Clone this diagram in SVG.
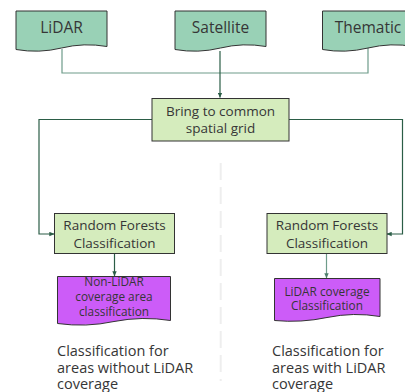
<svg xmlns="http://www.w3.org/2000/svg" width="405" height="392" viewBox="0 0 405 392">
<defs>
<style>
text{font-family:"Open Sans","Noto Sans","DejaVu Sans",sans-serif;font-weight:400;fill:#363636;text-anchor:middle}
.doc{fill:#99d1b6;stroke:#333;stroke-width:1}
.box{fill:#d5ecbd;stroke:#333;stroke-width:1}
.out{fill:#cc5cf8;stroke:#333;stroke-width:1}
.c{fill:none;stroke-width:1.2}
.d{stroke:#2b5d46}
.l{stroke:#6e9c8a}
.lab{text-anchor:start;font-size:14.5px}
</style>
<marker id="ad" viewBox="0 0 8 8" refX="7.5" refY="4" markerWidth="5" markerHeight="5" orient="auto" markerUnits="userSpaceOnUse"><path d="M0,0.5 L8,4 L0,7.5 Z" fill="#2b5d46"/></marker>
<marker id="al" viewBox="0 0 8 8" refX="7.5" refY="4" markerWidth="5" markerHeight="5" orient="auto" markerUnits="userSpaceOnUse"><path d="M0,0.5 L8,4 L0,7.5 Z" fill="#4f7f6c"/></marker>
</defs>
<line x1="220.7" y1="163" x2="220.7" y2="381" stroke="#eeeeee" stroke-width="2" stroke-dasharray="17,7"/>
<g id="connectors">
<path class="c l" d="M62,49 V73 H368 V47"/>
<path class="c d" d="M220,51 V97.5" marker-end="url(#ad)"/>
<path class="c d" d="M152,119.5 H39 V234 H54" marker-end="url(#ad)"/>
<path class="c d" d="M289,119.5 H402.5 V234 H387" marker-end="url(#ad)"/>
<path class="c d" d="M114.5,253 V276" marker-end="url(#ad)"/>
<path class="c l" d="M326.5,253 V278" marker-end="url(#al)"/>
</g>
<g id="lidar">
<path class="doc" d="M16,11 H107 V46.5 Q84,42.5 61.5,48 Q39,53.5 16,49.5 Z"/>
<text x="61.5" y="33" font-size="15.5">LiDAR</text>
</g>
<g id="satellite">
<path class="doc" d="M175,11 H266 V46.5 Q243,42.5 220.5,48 Q198,53.5 175,49.5 Z"/>
<text x="220.5" y="33" font-size="15.5">Satellite</text>
</g>
<g id="thematic">
<path class="doc" d="M322.5,11 H413.5 V46.5 Q391,42.5 368,48 Q345,53.5 322.5,49.5 Z"/>
<text x="368" y="33" font-size="15.5">Thematic</text>
</g>
<g id="grid">
<rect class="box" x="152" y="98.5" width="137" height="42.5"/>
<text x="220.5" y="116" font-size="13.5">Bring to common</text>
<text x="220.5" y="132.5" font-size="13.5">spatial grid</text>
</g>
<g id="rf-left">
<rect class="box" x="54.5" y="213.5" width="120" height="40"/>
<text x="114.5" y="230" font-size="13.5">Random Forests</text>
<text x="114.5" y="247.5" font-size="13.5">Classification</text>
</g>
<g id="rf-right">
<rect class="box" x="267" y="213.5" width="120" height="40"/>
<text x="327" y="230" font-size="13.5">Random Forests</text>
<text x="327" y="247.5" font-size="13.5">Classification</text>
</g>
<g id="out-left">
<path class="out" d="M57.5,276.5 H170.5 V320.5 Q142,316 114,321.5 Q86,327.5 57.5,323.5 Z"/>
<text x="114" y="286" font-size="11.8">Non-LiDAR</text>
<text x="114" y="301" font-size="11.8">coverage area</text>
<text x="114" y="316" font-size="11.8">classification</text>
</g>
<g id="out-right">
<path class="out" d="M274.5,278.5 H380 V316.5 Q353.5,312 327,317.5 Q301,323 274.5,320.5 Z"/>
<text x="327" y="295.5" font-size="11.8">LiDAR coverage</text>
<text x="327" y="309.5" font-size="11.8">Classification</text>
</g>
<g id="label-left">
<text class="lab" x="57" y="356">Classification for</text>
<text class="lab" x="57" y="372.5">areas without LiDAR</text>
<text class="lab" x="57" y="389">coverage</text>
</g>
<g id="label-right">
<text class="lab" x="272" y="356">Classification for</text>
<text class="lab" x="272" y="372.5">areas with LiDAR</text>
<text class="lab" x="272" y="389">coverage</text>
</g>
</svg>
